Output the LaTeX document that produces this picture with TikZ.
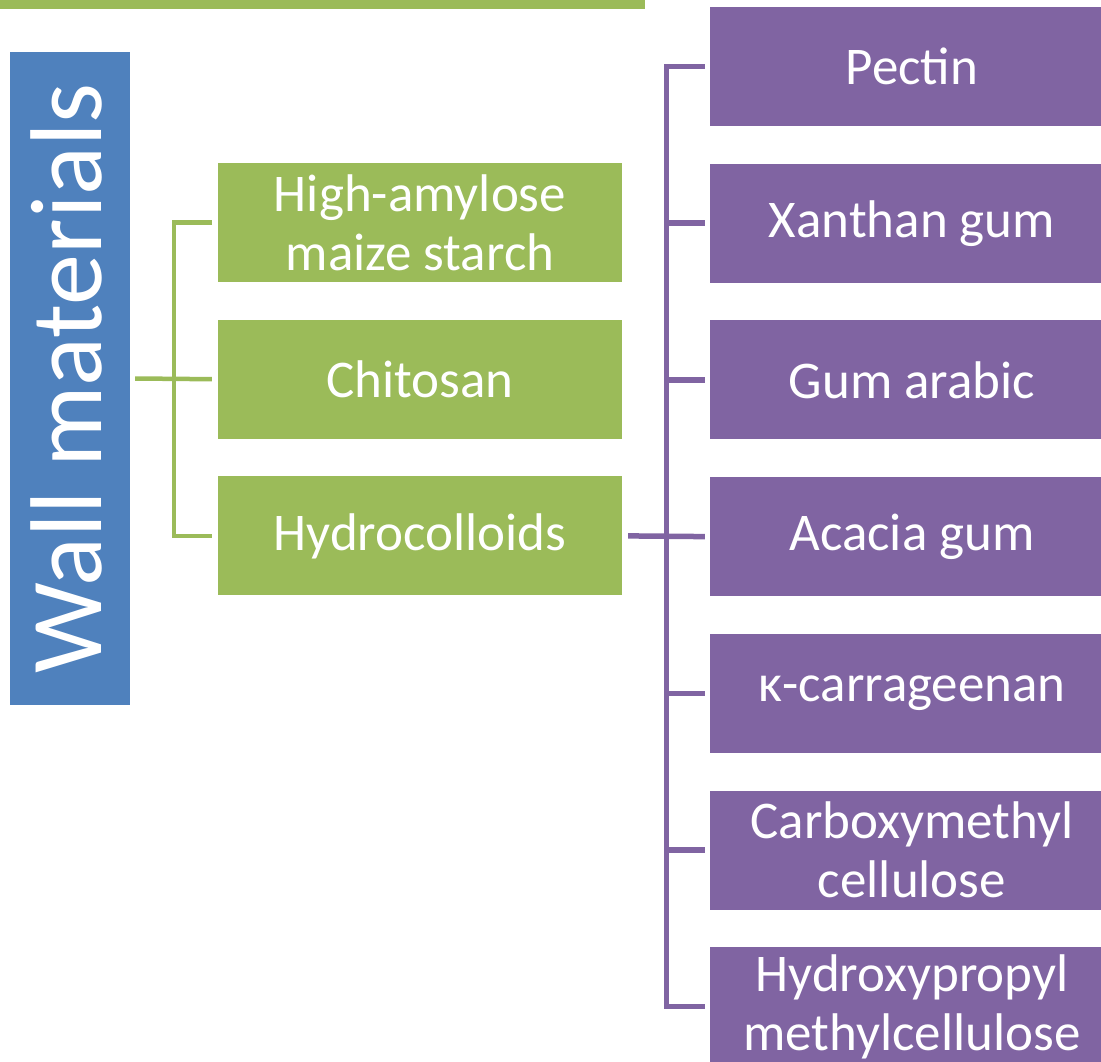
\documentclass[tikz,border=0pt]{standalone}
\usepackage{fontspec}
\setmainfont{Carlito}
\usepackage{xcolor}
\usetikzlibrary{positioning, calc}

\definecolor{wallblue}{HTML}{4F81BD}
\definecolor{leafgreen}{HTML}{9BBB59}
\definecolor{gumpurple}{HTML}{8064A2}

\tikzset{
  box/.style={rectangle, inner sep=0pt, minimum width=404pt, minimum height=119pt,
    text=white, align=center, font=\fontsize{53}{59}\selectfont},
  greenbox/.style={box, fill=leafgreen},
  purplebox/.style={box, fill=gumpurple},
  greenline/.style={leafgreen, line width=4.5pt},
  purpleline/.style={gumpurple, line width=5.5pt}
}

\begin{document}
\begin{tikzpicture}[x=1pt, y=-1pt]
\useasboundingbox (0,0) rectangle (1101,1062);

  % Top bar
  \fill[leafgreen] (0,0) rectangle (645,9);

  % Wall materials
  \node[fill=wallblue, rotate=90, inner sep=0pt, minimum width=653pt, minimum height=120pt,
    text=white, text depth=8pt, font=\fontsize{102}{110}\selectfont] (wall) at (70,378.5) {Wall materials};

  % Define the first level
  \node[greenbox] (amylose) at (420,222.5) {High-amylose\\maize starch};
  \node[greenbox, below=37.3pt of amylose] (chitosan) {Chitosan};
  \node[greenbox, below=37.3pt of chitosan] (hydro) {Hydrocolloids};

  % Define the second level
  \node[purplebox] (pectin) at (912,66.5) {Pectin};
  \node[purplebox, below=37.3pt of pectin] (xanthan) {Xanthan gum};
  \node[purplebox, below=37.3pt of xanthan] (arabic) {Gum arabic};
  \node[purplebox, below=37.3pt of arabic] (acacia) {Acacia gum};
  \node[purplebox, below=37.3pt of acacia] (kappa) {κ-carrageenan};
  \node[purplebox, below=37.3pt of kappa] (cmc) {Carboxymethyl\\cellulose};
  \node[purplebox, below=37.3pt of cmc] (hpmc) {Hydroxypropyl\\methylcellulose};

  % Junctions
  \coordinate (gj) at (174,379);
  \coordinate (pj) at (666.5,535);

  % Draw the green connectors
  \draw[greenline] ([xshift=5pt]wall.south) -- ([xshift=-6pt]chitosan.west);
  \draw[greenline] ([xshift=-6pt]amylose.west) -| (gj) |- ([xshift=-6pt]hydro.west);

  % Draw the purple connectors
  \draw[purpleline] ([xshift=6pt]hydro.east) -- ([xshift=-5pt]acacia.west);
  \draw[purpleline] ([xshift=-5pt]pectin.west) -| (pj) |- ([xshift=-5pt]hpmc.west);
  \foreach \n in {xanthan, arabic, kappa, cmc} {
    \draw[purpleline] (pj |- \n.west) -- ([xshift=-5pt]\n.west);
  }
\end{tikzpicture}
\end{document}
